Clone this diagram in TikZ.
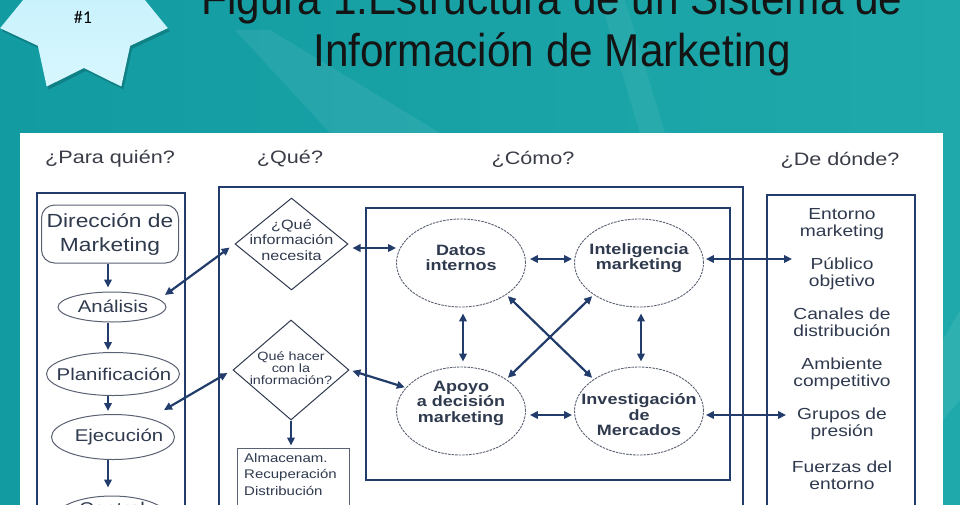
\documentclass[tikz,border=0pt]{standalone}
\usepackage{fontspec}
\setmainfont{Liberation Sans}
\newfontfamily\dg[FakeStretch=1.2]{Liberation Sans}
\newfontfamily\ttl[FakeStretch=0.92]{Liberation Sans}
\newfontfamily\calib{Carlito}
\usetikzlibrary{arrows.meta,shapes.geometric}
\definecolor{navy}{HTML}{223C6B}
\definecolor{ink}{HTML}{2F3A4E}
\definecolor{hdr}{HTML}{3A3D48}
\definecolor{tealA}{HTML}{129CA2}
\definecolor{tealB}{HTML}{1FA9AA}
\definecolor{starA}{HTML}{BDEDFB}
\definecolor{starB}{HTML}{D8F7FE}
\definecolor{outl}{HTML}{5A6172}
\tikzset{
  hdrtxt/.style={text=hdr,inner sep=0,font=\dg\fontsize{18}{18}\selectfont},
  frame/.style={draw=navy,line width=1.8pt},
  rrect/.style={rectangle,rounded corners=13pt,draw=outl,line width=1pt,minimum width=137pt,minimum height=58pt,inner sep=0,align=center,text=ink,font=\dg\fontsize{19}{24}\selectfont},
  lell/.style={ellipse,draw=outl,line width=1pt,inner sep=0},
  ltxt/.style={text=ink,inner sep=0,font=\dg\fontsize{17}{17}\selectfont},
  cell/.style={ellipse,draw=outl,line width=0.9pt,dash pattern=on 2.5pt off 1pt,minimum width=129pt,minimum height=88pt,inner sep=0},
  ctxt/.style={text=ink,align=center,inner sep=0,font=\dg\bfseries\fontsize{15}{15.5}\selectfont},
  dia/.style={diamond,draw=ink,line width=1pt,inner sep=0},
  dtxt/.style={text=ink,align=center,inner sep=0},
  abox/.style={rectangle,draw=outl,line width=1pt,minimum width=112pt,minimum height=73pt,inner sep=0},
  rtxt/.style={text=ink,align=center,inner sep=0,font=\dg\fontsize{16}{17}\selectfont},
  arr/.style={draw=navy,line width=2.2pt,-{Triangle[length=8pt,width=7.5pt]}},
  darr/.style={draw=navy,line width=2.2pt,{Triangle[length=8pt,width=7.5pt]}-{Triangle[length=8pt,width=7.5pt]}},
}
\begin{document}
\begin{tikzpicture}[x=1pt,y=-1pt]
\useasboundingbox (0,0) rectangle (960,504);
\clip (0,0) rectangle (960,504);
% background
\shade[left color=tealA,right color=tealB] (0,0) rectangle (960,504);
\fill[white,opacity=0.07] (235,30) -- (270,30) -- (440,133) -- (330,133) -- cycle;
\fill[white,opacity=0.06] (600,0) -- (625,0) -- (665,133) -- (640,133) -- cycle;
\fill[white,opacity=0.07] (943,340) -- (960,310) -- (960,400) -- (943,420) -- cycle;
% star
\fill[black,opacity=0.18,shift={(86,12)}] (115.71:86) \foreach \k in {0,...,6}{ -- ({115.71+\k*51.43}:86) -- ({141.43+\k*51.43}:59)} -- cycle;
\path[top color=starA,bottom color=starB,shift={(84,9)}] (115.71:86) \foreach \k in {0,...,6}{ -- ({115.71+\k*51.43}:86) -- ({141.43+\k*51.43}:59)} -- cycle;
\node[font=\calib\fontsize{18}{18}\selectfont,inner sep=0] (star) at (83,17) {\#1};
% title
\node[anchor=base,text=black!92,font=\ttl\fontsize{46}{46}\selectfont,inner sep=0] (t1) at (552,14) {Figura 1.Estructura de un Sistema de};
\node[anchor=base,text=black!92,font=\ttl\fontsize{46}{46}\selectfont,inner sep=0] (t2) at (552,66) {Información de Marketing};
% panel
\fill[white] (20,133) rectangle (943,520);
% headers
\node[hdrtxt] (h1) at (110,159) {¿Para quién?};
\node[hdrtxt] (h2) at (290,159) {¿Qué?};
\node[hdrtxt] (h3) at (533,159) {¿Cómo?};
\node[hdrtxt] (h4) at (840,160) {¿De dónde?};
% frames
\draw[frame] (37,520) -- (37,193) -- (185,193) -- (185,520);
\draw[frame] (219,520) -- (219,187) -- (743,187) -- (743,520);
\draw[frame] (366,208) rectangle (730,480);
\draw[frame] (767,520) -- (767,195) -- (915,195) -- (915,520);
% left column
\node[rrect] (dir) at (110,234) {Dirección de\\Marketing};
\node[lell,minimum width=108pt,minimum height=30pt] (ana) at (112,307) {};
\node[ltxt] (anat) at (113,306) {Análisis};
\node[lell,minimum width=133pt,minimum height=43pt] (pla) at (113,374) {};
\node[ltxt] (plat) at (114,374) {Planificación};
\node[lell,minimum width=123pt,minimum height=45pt] (eje) at (113,437) {};
\node[ltxt] (ejet) at (119,437) {Ejecución};
\node[lell,minimum width=115pt,minimum height=46pt] (con) at (112,519) {};
\node[ltxt,anchor=base] (cont) at (112,514) {Control};
\draw[arr,shorten >=4pt] (dir.south -| 108,0) -- (108,0 |- ana.north);
\draw[arr,shorten >=2pt] (108,0 |- ana.south) -- (108,0 |- pla.north);
\draw[arr,shorten >=3pt] (108,0 |- pla.south) -- (108,0 |- eje.north);
\draw[arr,shorten >=8pt] (108,0 |- eje.south) -- (108,0 |- con.north);
% centre column
\node[dia,minimum width=113pt,minimum height=92pt] (d1) at (291.5,244) {};
\node[dtxt,font=\dg\fontsize{13.5}{15.5}\selectfont] (d1t) at (291.5,240) {¿Qué\\información\\necesita};
\node[dia,minimum width=116pt,minimum height=100pt] (d2) at (291,370) {};
\node[dtxt,font=\dg\fontsize{12}{12}\selectfont] (d2t) at (291,368) {Qué hacer\\con la\\información?};
\node[abox] (alm) at (293,484.5) {};
\node[anchor=north west,align=left,text=ink,inner sep=0,font=\dg\fontsize{12.5}{16.5}\selectfont] (almt) at (244,453) {Almacenam.\\Recuperación\\Distribución};
\draw[arr,shorten >=2pt] (d2.south) -- (d2.south |- alm.north);
% inner ellipses
\node[cell] (dat) at (461,263) {};
\node[cell] (int) at (639,263) {};
\node[cell] (apo) at (461,411) {};
\node[cell] (inv) at (639,411) {};
\node[ctxt] (datt) at (461,258) {Datos\\internos};
\node[ctxt] (intt) at (639,258) {Inteligencia\\marketing};
\node[ctxt] (apot) at (461,403) {Apoyo\\a decisión\\marketing};
\node[ctxt] (invt) at (639,415) {Investigación\\de\\Mercados};
\draw[darr,shorten <=4pt,shorten >=2pt] ([yshift=4pt]dat.east) -- ([yshift=4pt]int.west);
\draw[darr,shorten <=4pt,shorten >=2pt] ([yshift=-4pt]apo.east) -- ([yshift=-4pt]inv.west);
\draw[darr,shorten <=6pt,shorten >=5pt] ([xshift=2pt]dat.south) -- ([xshift=2pt]apo.north);
\draw[darr,shorten <=6pt,shorten >=5pt] ([xshift=2pt]int.south) -- ([xshift=2pt]inv.north);
\draw[darr,shorten <=2pt,shorten >=2pt] (dat.-35) -- (inv.145);
\draw[darr,shorten <=2pt,shorten >=2pt] (int.-145) -- (apo.35);
\draw[darr,shorten <=4pt] ([yshift=-4pt]d1.east) -- ([yshift=-4pt]d1.east -| dat.west);
\draw[darr,shorten <=3pt,shorten >=1pt] (d2.east) -- (apo.157);
% left connectors
\coordinate (pA) at (165,295);
\coordinate (pE) at (164,410);
\draw[darr,shorten <=6pt] (d1.west) -- (pA);
\draw[darr,shorten <=6pt] (d2.west) -- (pE);
% right connectors
\coordinate (pI) at (792,259);
\coordinate (pV) at (786,415);
\draw[darr,shorten <=2pt] ([yshift=4pt]int.east) -- (pI);
\draw[darr,shorten <=2pt] ([yshift=-4pt]inv.east) -- (pV);
% right column
\node[rtxt] (r1) at (842,224) {Entorno\\marketing};
\node[rtxt] (r2) at (842,274) {Público\\objetivo};
\node[rtxt] (r3) at (842,322) {Canales de\\distribución};
\node[rtxt] (r4) at (842,374) {Ambiente\\competitivo};
\node[rtxt] (r5) at (842,424) {Grupos de\\presión};
\node[rtxt] (r6) at (842,475) {Fuerzas del\\entorno};
\end{tikzpicture}
\end{document}
